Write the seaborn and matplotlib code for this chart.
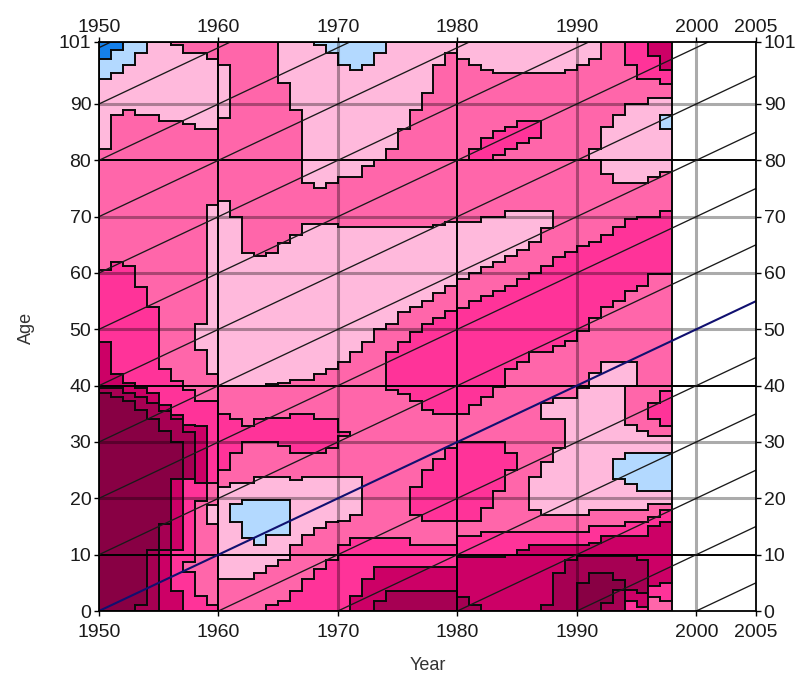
import numpy as np
import matplotlib
matplotlib.use("Agg")
import matplotlib.pyplot as plt
from matplotlib.colors import ListedColormap
from matplotlib.collections import LineCollection
import seaborn as sns

# colour classes, lowest to highest
class_colors = ["#1580ea", "#b3d9ff", "#ffb9dc", "#ff66aa", "#ff3399", "#cc0066", "#a60053", "#880044"]

# each year: (class, lower age of the band), read from age 101 downwards
c1950 = [(0,98),(1,94.5),(2,82),(3,60.5),(4,47.8),(5,39.6),(6,38.8),(7,0)]
c1951 = [(0,99.5),(1,95.5),(2,88),(3,62),(4,42),(5,39.6),(6,38),(7,0)]
c1952 = [(1,97),(2,89),(3,61.2),(4,40.5),(5,38.8),(6,37.2),(7,0)]
c1953 = [(1,99),(2,88),(3,57.6),(4,39.6),(5,38),(6,35.8),(7,1),(6,0)]
c1954 = [(2,88),(3,54),(4,38.7),(5,37),(6,34),(7,10.8),(6,0)]
c1955 = [(2,87),(3,43),(4,36.5),(5,35.5),(6,32),(7,15.6),(6,10.8),(5,0)]
c1956 = [(3,100.5),(2,87),(3,40.8),(4,34.8),(5,34),(6,30),(7,23.5),(5,10.8),(4,3.4),(5,0)]
c1957 = [(3,99),(2,86.5),(3,39.3),(4,33),(5,31.8),(6,23.5),(4,8.8),(3,7),(4,0)]
c1958 = [(3,99),(2,85.5),(3,51),(2,46.3),(3,37.3),(4,32.7),(5,22.7),(4,19.4),(3,2.8),(4,0)]
c1959 = [(3,98),(2,85.5),(3,72),(2,42),(3,37.3),(4,22.7),(3,18.8),(2,15.6),(3,1),(4,0)]
c1960 = [(3,97),(2,87.4),(3,72.7),(2,40),(3,35),(4,24.9),(3,21.9),(2,5.8),(3,0)]
c1961 = [(3,70),(2,40),(3,34),(4,28),(3,22.8),(2,18.9),(1,15.7),(2,5.8),(3,0)]
c1962 = [(3,63.6),(2,40),(3,32.7),(4,30),(3,22.8),(2,19.8),(1,13),(2,5.8),(3,0)]
c1963 = [(3,63),(2,40),(3,33.9),(4,30),(3,23.7),(2,19.8),(1,11.8),(2,6.7),(3,0)]
c1964 = [(3,63.6),(2,40.2),(3,34.2),(4,30),(3,23.7),(2,19.8),(1,13.6),(2,8),(3,1.1),(4,0)]
c1965 = [(2,93.7),(3,65.3),(2,40.5),(3,34.2),(4,29.3),(3,23.7),(2,19.8),(1,13.6),(2,9),(3,1.7),(4,0)]
c1966 = [(2,89),(3,66.7),(2,41),(3,34.9),(4,28),(3,23.2),(2,11.8),(3,3.4),(4,0)]
c1967 = [(2,76),(3,68.8),(2,41),(3,34.9),(4,28),(3,23.7),(2,13.6),(3,5.8),(4,0)]
c1968 = [(1,100.5),(2,75),(3,68.8),(2,42),(3,33.9),(4,28),(3,23.7),(2,14.8),(3,7.6),(4,0)]
c1969 = [(1,99),(2,76),(3,68.8),(2,43),(3,33.9),(4,29),(3,23.7),(2,15.7),(3,9),(4,0)]
c1970 = [(1,97),(2,77),(3,68.2),(2,44.3),(3,31.8),(4,31),(3,23.7),(2,16),(3,11.8),(4,0)]
c1971 = [(1,96),(2,77),(3,68.2),(2,46),(3,23.7),(2,17.1),(3,13),(4,2.8),(5,0)]
c1972 = [(1,97),(2,79),(3,68.2),(2,47.8),(3,13),(4,5.8),(5,0)]
c1973 = [(1,99),(2,80),(3,68.2),(2,50),(3,13),(4,7.7),(5,1.7),(6,0)]
c1974 = [(2,82),(3,68.2),(2,51),(3,46),(4,39.3),(3,13),(4,7.7),(5,3.6),(6,0)]
c1975 = [(2,85.5),(3,68.2),(2,53),(3,47.8),(4,38.4),(3,13),(4,7.7),(5,3.6),(6,0)]
c1976 = [(2,89),(3,68.2),(2,54),(3,49.5),(4,37.3),(3,21.9),(4,17.1),(3,11.8),(4,7.7),(5,3.6),(6,0)]
c1977 = [(2,92),(3,68.2),(2,55),(3,51),(4,35.8),(3,24.9),(4,16),(3,11.8),(4,7.7),(5,3.6),(6,0)]
c1978 = [(2,97),(3,68.5),(2,56.5),(3,51.9),(4,35),(3,27),(4,16),(3,11.8),(4,7.7),(5,3.6),(6,0)]
c1979 = [(2,99),(3,69),(2,57.7),(3,53.3),(4,35),(3,29),(4,16),(3,11.8),(4,7.7),(5,3.6),(6,0)]
c1980 = [(2,98),(3,69),(2,59),(3,53.8),(4,35),(3,30),(4,16),(3,13.2),(4,9.4),(5,2.5),(6,0)]
c1981 = [(2,97),(3,82),(4,80),(3,69),(2,60),(3,55),(4,36.4),(3,30),(4,16),(3,13.2),(4,9.4),(5,1),(6,0)]
c1982 = [(2,96),(3,84),(4,80),(3,70),(2,61),(3,56),(4,38),(3,30),(4,18.3),(3,13.9),(4,9.4),(5,0)]
c1983 = [(2,95.5),(3,85.3),(4,81),(3,70),(2,62),(3,56.8),(4,39.8),(3,30),(4,21.3),(3,13.9),(4,9.4),(5,0)]
c1984 = [(2,95.5),(3,86),(4,82),(3,71),(2,63),(3,57.7),(4,43.1),(3,28),(4,24.9),(3,13.9),(4,10),(5,0)]
c1985 = [(2,95.5),(3,87),(4,83),(3,71),(2,64),(3,59),(4,44.3),(3,13.9),(4,10.8),(5,0)]
c1986 = [(2,95.5),(3,87),(4,84),(3,71),(2,65.6),(3,60),(4,46),(3,23.7),(2,18),(3,13.9),(4,11.8),(5,0)]
c1987 = [(2,95.5),(3,71),(2,68),(3,61.2),(4,46),(3,37),(2,34),(3,26.4),(2,17.1),(3,13.9),(4,11.8),(5,1),(6,0)]
c1988 = [(2,95.5),(3,62.7),(4,46.9),(3,37.8),(2,34),(3,29),(2,17.1),(3,13.9),(4,11.8),(5,6.7),(6,0)]
c1989 = [(2,96),(3,63.7),(4,48),(3,37.8),(2,17.1),(3,13.9),(4,11.8),(5,9.1),(6,0)]
c1990 = [(2,97),(3,64.7),(4,49.8),(3,39.6),(2,17.1),(3,13.9),(4,11.8),(5,9.7),(6,5),(7,0)]
c1991 = [(2,98),(3,82),(2,80),(3,65.6),(4,51.9),(3,42.2),(2,18),(3,15),(4,12.1),(5,9.7),(6,6.7),(7,0)]
c1992 = [(3,86),(2,77.5),(3,66.8),(4,53.9),(3,44.3),(2,18),(3,15),(4,13.2),(5,9.7),(6,6.7),(7,1.4),(6,0)]
c1993 = [(3,88),(2,76),(3,68.2),(4,55),(3,44.3),(2,27),(1,23.4),(2,18),(3,15),(4,13.2),(5,9.7),(6,5.5),(7,3.8),(6,0)]
c1994 = [(4,97),(3,90),(2,76),(3,69.5),(4,56.8),(3,44.3),(2,40),(3,32.9),(2,27.9),(1,22.5),(2,18),(3,15.8),(4,13.2),(5,9.7),(6,3.7),(5,1.7),(4,0)]
c1995 = [(4,94.5),(3,90),(2,76),(3,70),(4,57.7),(3,32),(2,27.9),(1,21.3),(2,18),(3,15.8),(4,13.2),(5,9.1),(6,3.3),(5,0.8),(4,0)]
c1996 = [(5,98.5),(4,94.5),(3,91),(2,77),(3,70),(4,59.8),(3,37),(4,34),(3,31),(2,27.9),(1,21.3),(2,19),(3,16.8),(4,15),(5,4.6),(4,2.6),(3,0)]
c1997 = [(5,96),(4,93.5),(3,91),(2,88),(1,85.6),(2,78),(3,71),(4,59.8),(3,39),(4,32.8),(3,31),(2,27.9),(1,21.3),(2,19),(3,18),(4,15.8),(5,4.9),(4,1.7),(3,0)]

year_columns = [c1950,c1951,c1952,c1953,c1954,c1955,c1956,c1957,c1958,c1959,
                c1960,c1961,c1962,c1963,c1964,c1965,c1966,c1967,c1968,c1969,
                c1970,c1971,c1972,c1973,c1974,c1975,c1976,c1977,c1978,c1979,
                c1980,c1981,c1982,c1983,c1984,c1985,c1986,c1987,c1988,c1989,
                c1990,c1991,c1992,c1993,c1994,c1995,c1996,c1997]

x_ticks = [1950, 1960, 1970, 1980, 1990, 2000, 2005]
y_ticks = [0, 10, 20, 30, 40, 50, 60, 70, 80, 90, 101]
black_ages = [10, 40, 80]
gray_ages = [20, 30, 50, 60, 70, 90]
black_years = [1960, 1980]
gray_years = [1970, 1990, 2000]
cohort_births = [1850, 1860, 1870, 1880, 1890, 1900, 1910, 1920, 1930, 1940,
                 1960, 1970, 1980, 1990, 2000]
blue_birth = 1950

START, END, TOP = 1950, 2005, 101
PER_AGE = 4  # matrix rows per year of age


def X(year):
    return np.asarray(year, dtype=float) - START


def Y(age):
    return np.asarray(age, dtype=float) * PER_AGE


rows = TOP * PER_AGE
Z = np.zeros((rows, len(year_columns)), dtype=int)
for c, bands in enumerate(year_columns):
    top = rows
    for level, low in bands:
        low_row = int(round(low * PER_AGE))
        Z[low_row:top, c] = level
        top = low_row

sns.set_theme(style="white")
plt.rcParams["font.family"] = ["Liberation Sans", "DejaVu Sans"]

fig = plt.figure(figsize=(8.0, 6.74), dpi=100, facecolor="white")
ax = fig.add_axes([99 / 800, (674 - 611) / 674, (756 - 99) / 800, (611 - 42) / 674])

sns.heatmap(Z, ax=ax, cmap=ListedColormap(class_colors), vmin=-0.5, vmax=7.5,
            cbar=False, xticklabels=False, yticklabels=False)
ax.set_xlim(0, END - START)
ax.set_ylim(0, rows)

# class boundaries derived from the matrix
segs = []
P = np.full((rows + 2, Z.shape[1] + 2), -1)
P[1:-1, 1:-1] = Z
for c in range(P.shape[1] - 1):
    diff = P[:, c] != P[:, c + 1]
    r = 0
    while r < len(diff):
        if diff[r]:
            s = r
            while r < len(diff) and diff[r]:
                r += 1
            segs.append([(c, s - 1), (c, r - 1)])
        else:
            r += 1
for r in range(P.shape[0] - 1):
    diff = P[r, :] != P[r + 1, :]
    c = 0
    while c < len(diff):
        if diff[c]:
            s = c
            while c < len(diff) and diff[c]:
                c += 1
            segs.append([(s - 1, r), (c - 1, r)])
        else:
            c += 1
ax.add_collection(LineCollection(segs, colors="#0a0a0a", linewidths=1.4,
                                 capstyle="projecting", zorder=3))

# grid
for a in gray_ages:
    ax.axhline(Y(a), color="black", alpha=0.33, lw=2.2, zorder=4)
for yr in gray_years:
    ax.axvline(X(yr), color="black", alpha=0.33, lw=2.2, zorder=4)
for a in black_ages:
    ax.axhline(Y(a), color="black", lw=1.4, zorder=4)
for yr in black_years:
    ax.axvline(X(yr), color="black", lw=1.4, zorder=4)

# cohort lines
for b in cohort_births:
    yrs = np.array([max(START, b), END])
    ax.plot(X(yrs), Y(yrs - b), color="#1a1a1a", lw=0.95, zorder=5)
yrs = np.array([START, END])
ax.plot(X(yrs), Y(yrs - blue_birth), color="#101070", lw=1.5, zorder=5)

for side in ax.spines:
    ax.spines[side].set_visible(True)
    ax.spines[side].set_color("black")
    ax.spines[side].set_linewidth(1.3)
    ax.spines[side].set_zorder(6)

ax.set_xticks(X(x_ticks))
ax.set_xticklabels([str(v) for v in x_ticks], rotation=0)
ax.set_yticks(Y(y_ticks))
ax.set_yticklabels([str(v) for v in y_ticks], rotation=0)
ax.tick_params(axis="x", length=3.5, width=1.0, color="black", labelsize=14,
               labelcolor="#1a1a1a", pad=6, bottom=True, top=False,
               labelbottom=True, labeltop=False)
ax.tick_params(axis="y", length=3.5, width=1.0, color="black", labelsize=14,
               labelcolor="#1a1a1a", pad=2, left=True, right=True,
               labelleft=True, labelright=True)

top_axis = ax.secondary_xaxis("top")
top_axis.set_xticks(X(x_ticks))
top_axis.set_xticklabels([str(v) for v in x_ticks], rotation=0)
top_axis.tick_params(axis="x", length=3.5, width=1.0, color="black", labelsize=14,
                     labelcolor="#1a1a1a", pad=1)
top_axis.spines["top"].set_visible(False)

fig.text(428 / 800, 1 - 665 / 674, "Year", ha="center", va="center", fontsize=13, color="#333333")
fig.text(26 / 800, 1 - 328 / 674, "Age", ha="center", va="center", rotation=90, fontsize=13, color="#333333")

fig.savefig("out.png", dpi=100, facecolor="white")
